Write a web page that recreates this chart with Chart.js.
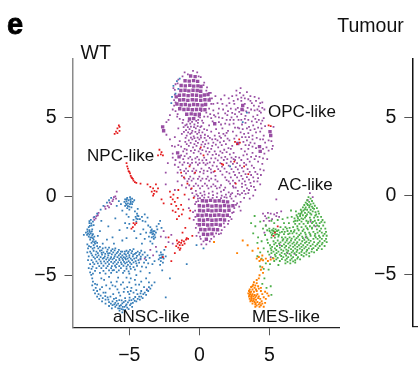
<!DOCTYPE html>
<html>
<head>
<meta charset="utf-8">
<script src="https://cdn.jsdelivr.net/npm/chart.js@4"></script>
<style>
html, body { margin: 0; padding: 0; background: #fff; }
#wrap { position: relative; width: 418px; height: 368px; overflow: hidden; }
#wt { position: absolute; left: 0; top: 0; }
#tumour { position: absolute; left: 330px; top: 0; }
</style>
</head>
<body>
<div id="wrap">
<canvas id="wt" width="418" height="368"></canvas>
<canvas id="tumour" width="88" height="368"></canvas>
</div>
<script>
const tickValues = [-5, 0, 5];

const clusterNames = ["NPC-like", "OPC-like", "AC-like", "aNSC-like", "MES-like"];
const clusterLabelX = [-8.02, 4.91, 5.61, -6.16, 3.76];
const clusterLabelY = [2.24, 5.03, 0.4, -7.97, -7.97];

const redPoints = [[-5.75,4.5],[-5.7,4.4],[-5.85,4.3],[-5.7,4.15],[-5.95,4.1],[-6.05,3.95],[-5.85,4],
[-2.85,2.95],[-2.75,2.65],[-2.95,2.6],[-2.6,2.6],[-2.7,2.8],
[-5.2,2.1],[-5.15,1.9],[-5.1,1.75],[-5.05,1.6],[-4.95,1.45],[-4.9,1.3],[-4.85,1.2],[-4.75,1.1],[-4.7,1],[-4.6,.9],[-4.5,.85],[-5,1.55],[-4.8,1.15],[-4.2,.8],
[-3.7,.75],[-3.5,.6],[-3.3,.5],[-3.1,.75],[-3.4,.3],[-3.25,.15],[-3.05,.3],[-3.3,.05],[-2.95,.5],[-3.2,.35],
[-2.7,-.2],[-2.55,-.45],[-2.1,.3],[-2.05,-.05],[-1.9,-.2],[-1.85,.1],[-1.75,-.35],[-1.65,-.6],[-2,-.5],[-1.55,-.1],[-1.5,-.8],[-1.7,-1],[-1.45,-1.25],[-1.6,-1.45],[-1.25,-1.15],[-1.15,-.85],[-1.9,-.9],[-1.3,-.55],
[-2.6,-3.85],[-2.4,-3.2],[-2,-4.1],[-2.2,-2.6],
[-1.6,-2.8],[-1.55,-3.0],[-1.45,-2.9],[-1.4,-3.1],[-1.5,-3.25],[-1.35,-3.3],[-1.3,-2.95],[-1.2,-3.1],[-1.25,-2.8],[-1.1,-2.85],[-1.05,-3],[-.95,-2.75],[-.9,-2.65],[-1.65,-3.15],[-1.4,-3.4],[-.8,-2.7],
[-1.75,-3.6],[-.5,-2.5],[-1.2,-2.3],[-1,-2],[-.7,-1.4],[-.65,-.9],[-.4,-.1],[-.55,.5],[-.85,.8],[-1.1,1.2],[-1.05,.1],[-.3,1.5],[-.7,1.9],[-1.3,1.5],[-1.5,.4],
[-4.75,-1.95],[-4.6,-1.8],[-4.7,-1.7],[-4.5,-1.7],[-4.85,-2.05],
[2.55,3.45],[2.7,3.3],[2.9,3.4],[2.85,3.6],[2.5,2.2],[1.6,2.05],[1.7,2],[3.2,1.9],[3.5,1.4],[2.6,.8],[4.95,4.5],[5.1,4.45],[1.1,1.6],[.1,3.1],[.3,2.6],
[5.4,-2.3],[5.3,-2.5],[5.6,-1.9]];

const orangePoints = [[3.9,-5.45],[4.1,-5.5],[3.85,-5.6],[4,-5.65],[4.2,-5.7],[3.7,-5.75],[3.95,-5.8],[3.6,-5.9],[3.8,-5.9],[4.25,-5.85],[4.4,-5.8],[3.55,-6],[3.7,-6.05],[3.9,-6.05],[4.1,-6],[4.4,-6],[4.7,-6.05],[3.5,-6.15],[3.65,-6.2],[3.8,-6.2],[3.95,-6.25],[4.15,-6.2],[4.5,-6.2],[4.85,-6.15],[3.55,-6.35],[3.7,-6.35],[3.85,-6.35],[4,-6.4],[4.25,-6.35],[4.6,-6.4],[4.95,-6.3],[3.6,-6.5],[3.75,-6.5],[3.9,-6.5],[4.05,-6.55],[4.35,-6.5],[4.75,-6.5],[3.65,-6.65],[3.8,-6.65],[3.95,-6.7],[4.15,-6.7],[4.45,-6.65],[3.8,-6.8],[4,-6.85],[4.25,-6.85],[4.5,-6.8],[4.7,-6.75],[4,-7],[4.3,-7],[4.6,-7],
[3.62,-6.1],[3.75,-6.28],[3.58,-6.25],[3.72,-6.42],[3.88,-6.6],[3.7,-6.58],[4.08,-6.3],[4.02,-6.78],[4.2,-6.45],[4.32,-6.75],[4.1,-6.92],[4.4,-6.9],[3.8,-5.7],[4.05,-5.9],
[4.1,-3.95],[4.25,-3.85],[4.4,-4],[4.55,-4.05],[4.3,-4.1],[4.75,-3.95],[4.9,-4.1],[5.1,-4],[5.3,-3.95],[4.5,-3.75],[3.8,-3.45],[3.45,-3.1],[4.2,-3.3],
[4.5,-4.5],[4.4,-4.65],[4.55,-4.85],[4.3,-5],[4.25,-5.2],[4.1,-5.3],[1.05,-2.9],[2.7,-3.6],[3.1,-2.8]];

const greenPoints = [[7.8,-.05],[7.95,-.15],[7.7,-.25],[8.05,-.3],[7.85,-.35],[7.6,-.4],[8.15,-.45],[7.95,-.5],[7.75,-.55],[7.5,-.55],[8.25,-.6],[8.05,-.65],[7.85,-.7],[7.6,-.7],[7.4,-.7],[8.4,-.75],[8.2,-.8],[7.95,-.85],[7.7,-.85],[7.45,-.9],[7.25,-.85],[8.5,-.95],[8.3,-1],[8.1,-.95],[7.8,-1],[7.55,-1.05],[7.3,-1.05],[7.1,-1.1],[8.55,-1.1],[8.35,-1.15],[8,-1.15],[7.7,-1.15],[7.4,-1.2],[7.2,-1.25],[6.95,-1.2],[8.7,-1.3],[8.45,-1.3],[8.2,-1.35],[7.9,-1.35],[7.55,-1.35],[7.3,-1.4],[7.05,-1.4],[6.8,-1.4],[8.8,-1.5],[8.5,-1.5],[8.25,-1.55],[7.95,-1.5],[7.65,-1.55],[7.3,-1.6],[7,-1.55],[6.75,-1.6],[8.95,-1.65],[8.6,-1.7],[8.35,-1.7],[8.05,-1.7],[7.75,-1.7],[7.45,-1.75],[7.15,-1.75],[6.85,-1.75],[8.85,-1.85],[8.55,-1.9],[8.2,-1.85],[7.9,-1.9],[7.6,-1.9],[7.3,-1.95],[7,-1.9],[6.7,-1.95],[6.45,-2],[9,-2.05],[8.7,-2.05],[8.4,-2.1],[8.05,-2.05],[7.75,-2.1],[7.45,-2.1],[7.1,-2.15],[6.8,-2.15],[6.55,-2.2],[6.3,-2.2],[9.05,-2.25],[8.75,-2.3],[8.45,-2.3],[8.15,-2.25],[7.85,-2.3],[7.55,-2.3],[7.25,-2.35],[6.95,-2.35],[6.65,-2.35],[6.35,-2.4],[6.05,-2.4],[9.1,-2.5],[8.85,-2.5],[8.55,-2.5],[8.25,-2.5],[7.95,-2.5],[7.65,-2.55],[7.35,-2.55],[7.05,-2.55],[6.75,-2.55],[6.45,-2.6],[6.15,-2.6],[5.9,-2.6],[5.65,-2.55],[9.05,-2.7],[8.75,-2.7],[8.45,-2.7],[8.15,-2.7],[7.8,-2.75],[7.5,-2.75],[7.15,-2.75],[6.85,-2.75],[6.55,-2.8],[6.25,-2.8],[5.95,-2.8],[5.6,-2.8],[5.3,-2.85],[9.1,-2.9],[8.8,-2.95],[8.5,-2.95],[8.2,-2.9],[7.85,-2.95],[7.55,-2.95],[7.25,-3],[6.95,-3],[6.65,-3],[6.35,-3],[6.05,-3.05],[5.7,-3],[5.35,-3.05],[5.05,-3.1],[8.95,-3.15],[8.6,-3.15],[8.3,-3.15],[7.95,-3.15],[7.6,-3.2],[7.3,-3.2],[7,-3.2],[6.7,-3.2],[6.4,-3.25],[6.1,-3.25],[5.75,-3.25],[5.4,-3.3],[5.1,-3.3],[8.75,-3.35],[8.4,-3.4],[8.05,-3.35],[7.7,-3.4],[7.35,-3.4],[7,-3.4],[6.7,-3.45],[6.35,-3.45],[6,-3.45],[5.65,-3.5],[5.3,-3.5],[4.9,-3.5],[8.2,-3.55],[7.85,-3.6],[7.5,-3.6],[7.15,-3.6],[6.8,-3.6],[6.45,-3.65],[6.1,-3.65],[5.75,-3.7],[5.4,-3.7],[5,-3.7],[7.85,-3.8],[7.45,-3.8],[7.05,-3.85],[6.7,-3.85],[6.35,-3.85],[6,-3.85],[5.6,-3.9],[5.25,-3.9],[7.2,-4],[6.85,-4.05],[6.5,-4.05],[6.15,-4.05],[5.75,-4.1],[5.35,-4.1],[6.85,-4.2],[6.5,-4.25],[6.15,-4.25],[5.05,-4.3],
[5.2,-2.15],[5.3,-2.05],[5.4,-2.25],[5.25,-2.35],[5.1,-2.3],[5.45,-2.1],[5.55,-2.4],[5,-2.05],[5.65,-2.15],[5.8,-1.95],[6,-2.1],[5.75,-2.3],
[4,-1.9],[3.85,-2.35],[4.2,-2.6],[4.35,-1.6],[4.55,-2.05],[4.7,-2.45],[4.45,-2.85],[4.75,-1.85],[4.85,-2.75],[4.95,-1.35],[5.15,-1.55],[5.35,-1.7],[5.6,-1.5],[6.05,-1.7],[6.3,-1.35],[6.55,-.9],[6.15,-1.95],[4.6,-3.3],[4.35,-3.55],[4.15,-3.8],[4.45,-3.95],[4.75,-4.25],[4.35,-4.45],[4.6,-4.6],[4.15,-2.95],[3.7,-1.7],[3.95,-1.25],[5.1,-5.7],[5.15,-6.25],[4.8,-5.8],[4.5,-5.55],[4.65,-5.2],[4.95,-4.65],[5.65,-4.35]];

const greenExtraPoints = [[7.7,-.48],[7.88,-.6],[8.12,-.75],[7.55,-.82],[7.32,-.95],[7.92,-1.08],[7.62,-1.25],[7.22,-1.12],[7.02,-1.3],[8.28,-1.22],[7.42,-1.45],[7.78,-1.6],[8.12,-1.62],[7.15,-1.5],[8.42,-1.85],[8.72,-1.62],[8.05,-1.98],[7.7,-2.02],[7.38,-2.2],[7.02,-2.05],[6.85,-1.55],[8.6,-2.2],[8.28,-2.38],[7.92,-2.4],[7.6,-2.42],[7.15,-2.45],[6.75,-2.25],[6.45,-2.35],[8.95,-2.38],[8.62,-2.6],[8.32,-2.6],[7.72,-2.65],[7.4,-2.65],[6.95,-2.65],[6.6,-2.68],[6.3,-2.7],[6,-2.72],[8.95,-2.82],[8.6,-2.85],[7.95,-2.82],[7.65,-2.88],[7.35,-2.85],[7,-2.9],[6.75,-2.92],[6.45,-2.92],[6.15,-2.92],[5.8,-2.92],[5.45,-2.95],[8.75,-3.05],[8.42,-3.05],[8.1,-3.05],[7.72,-3.08],[7.42,-3.1],[7.12,-3.1],[6.82,-3.1],[6.5,-3.12],[6.2,-3.15],[5.9,-3.15],[5.55,-3.15],[5.2,-3.2],[8.5,-3.28],[8.15,-3.28],[7.82,-3.3],[7.5,-3.3],[7.18,-3.32],[6.85,-3.32],[6.55,-3.35],[6.22,-3.38],[5.85,-3.38],[5.5,-3.4],[5.15,-3.42],[8.02,-3.5],[7.65,-3.5],[7.3,-3.52],[6.95,-3.52],[6.6,-3.55],[6.25,-3.55],[5.88,-3.58],[5.52,-3.6],[5.15,-3.6],[7.65,-3.7],[7.3,-3.72],[6.92,-3.72],[6.55,-3.75],[6.2,-3.75],[5.85,-3.78],[5.45,-3.8],[7,-3.95],[6.6,-3.95],[6.25,-3.95],[5.9,-3.98],[5.5,-4],[6.7,-4.12],[6.3,-4.15],[5.55,-2.2],[5.3,-2.2],[5.18,-2.45],[5.42,-2.42],[5.02,-2.2],[5.68,-2.45],[5.9,-2.25],[6.1,-2.25],[4.85,-2.15],[5.15,-2.62],[5.4,-2.62],[4.9,-2.95],[6.25,-2.05],[6.4,-1.7],[6.6,-1.3],[6.9,-.95],[5.95,-1.45]];

const bluePoints = [[-6.3,-.1],[-6.45,-.25],[-6.6,-.4],[-6.85,-.6],[-7.05,-.85],[-7.3,-1.1],[-7.5,-1.3],
[-5.3,-.2],[-5.15,-.1],[-4.95,-.05],[-4.8,-.15],[-5.2,-.3],[-5.05,-.25],[-4.9,-.3],[-4.75,-.35],[-5.25,-.45],[-5.1,-.45],[-4.95,-.5],[-4.8,-.5],[-5.3,-.6],[-5,-.65],[-4.85,-.7],[-5.15,-.75],[-5.35,-.35],[-4.65,-.25],[-5,-.85],[-5.6,-.5],[-5.75,-.3],[-5.9,-.6],[-5.5,-.9],
[-5.2,-1.15],[-5.05,-1.3],[-4.6,-.95],[-4.45,-1.1],[-4.35,-1.25],[-4.55,-1.3],[-4.4,-1.45],[-4.7,-1.5],[-4.25,-1.45],[-4.5,-1.6],[-4.1,-1.3],[-3.9,-1.15],[-4.05,-1.55],[-3.7,-1.35],[-3.85,-1.6],[-4.4,-.8],[-5.3,-1.7],[-5,-1.75],[-5.15,-2],
[-3.65,-1.85],[-3.5,-1.95],[-3.4,-2.1],[-3.3,-2.2],[-3.5,-2.3],[-3.35,-2.4],[-3.2,-2.45],[-3.4,-2.6],[-3.25,-2.7],[-3.05,-1.9],[-2.9,-1.75],[-3,-2.1],[-3.1,-2.3],[-2.8,-1.55],[-3.15,-2.6],[-3.6,-2.55],[-3.8,-2.3],[-4,-2.1],[-4.2,-2.4],[-3.9,-2.7],[-3.5,-2.85],[-3.35,-3],[-2.7,-2],[-4.5,-2.65],[-4.65,-2.2],[-4.1,-3],
[-7.75,-1.5],[-7.85,-1.7],[-7.6,-1.6],[-7.9,-1.95],[-7.7,-1.85],[-8,-2.1],[-7.85,-2.15],[-7.65,-2.1],[-8.1,-2.3],[-7.95,-2.35],[-7.75,-2.35],[-7.6,-2.4],[-7.9,-2.55],[-7.7,-2.6],[-7.5,-2.55],[-7.8,-2.75],[-7.55,-2.75],[-7.4,-2.85],[-7.7,-2.95],[-7.45,-3],[-7.25,-2.5],[-8.25,-2.45],[-7.1,-2.2],[-6.9,-3],
[-8,-3.05],[-7.95,-3.3],[-7.75,-3.2],[-7.5,-3.25],[-7.3,-3.15],[-7.1,-3.2],[-6.9,-3.3],[-6.7,-3.25],[-6.45,-3.25],[-6.2,-3.35],[-6,-3.3],[-5.75,-3.4],[-5.5,-3.5],[-5.2,-3.45],[-4.95,-3.4],[-4.7,-3.35],[-4.4,-3.5],[-4.15,-3.45],[-3.9,-3.55],
[-8,-3.55],[-7.8,-3.5],[-7.55,-3.45],[-7.35,-3.5],[-7.1,-3.45],[-6.85,-3.55],[-6.6,-3.5],[-6.4,-3.6],[-6.15,-3.55],[-5.9,-3.6],[-5.65,-3.65],[-5.35,-3.65],[-5.1,-3.6],[-4.85,-3.6],[-4.6,-3.65],[-4.3,-3.7],[-4.05,-3.7],[-3.7,-3.75],
[-7.9,-3.8],[-7.65,-3.75],[-7.4,-3.7],[-7.2,-3.75],[-6.95,-3.7],[-6.75,-3.8],[-6.5,-3.75],[-6.3,-3.85],[-6.05,-3.8],[-5.85,-3.85],[-5.6,-3.85],[-5.4,-3.85],[-5.2,-3.8],[-5,-3.85],[-4.75,-3.8],[-4.5,-3.9],[-4.2,-3.95],[-3.55,-3.9],
[-7.95,-4.05],[-7.7,-4.05],[-7.45,-3.95],[-7.15,-4],[-6.9,-3.95],[-6.65,-4],[-6.45,-4.05],[-6.2,-4],[-5.95,-4.05],[-5.7,-4.05],[-5.45,-4.05],[-5.25,-4],[-5.05,-4.1],[-4.8,-4.05],[-4.55,-4.1],[-4.3,-4.2],[-3.95,-4.2],[-3.65,-4.25],
[-7.8,-4.3],[-7.5,-4.3],[-7.25,-4.25],[-7,-4.25],[-6.7,-4.25],[-6.45,-4.3],[-6.15,-4.25],[-5.9,-4.3],[-5.55,-4.3],[-5.3,-4.25],[-5.1,-4.35],[-4.85,-4.3],[-4.45,-4.4],[-4.1,-4.45],[-3.8,-4.5],
[-7.7,-4.6],[-7.35,-4.55],[-7,-4.55],[-6.65,-4.55],[-6.3,-4.55],[-5.95,-4.5],[-5.6,-4.55],[-5.2,-4.6],[-4.9,-4.6],[-4.6,-4.65],[-4.2,-4.75],[-3.55,-4.85],
[-7.6,-4.9],[-7.1,-4.85],[-6.7,-4.9],[-6.3,-4.85],[-5.9,-4.8],[-5.45,-4.85],[-5,-4.9],[-4.5,-5],[-3.8,-5.2],[-7.65,-5.2],[-7,-5.2],[-6.45,-5.1],[-5.8,-5.15],[-5.2,-5.15],[-4.6,-5.3],[-4.15,-5.4],[-3.6,-5.45],
[-2.75,-3.55],[-2.6,-3.7],[-2.85,-3.75],[-2.7,-3.9],[-2.55,-3.95],[-2.9,-4],[-2.75,-4.1],[-2.6,-4.2],[-2.5,-3.4],[-3.05,-3.5],[-2.4,-3.8],[-3.2,-4.1],[-2.8,-4.35],[-2.65,-4.7],
[-7.6,-5.4],[-7.45,-5.55],[-7.65,-5.65],[-7.4,-5.8],[-7.55,-5.95],[-7.3,-6],[-7.45,-6.15],[-7.2,-6.2],[-7.3,-6.35],[-7.05,-6.3],[-7.15,-6.5],[-6.9,-6.45],[-6.95,-6.65],[-6.7,-6.55],[-6.7,-6.8],[-6.45,-6.7],[-6.45,-6.95],[-6.2,-6.65],[-6.2,-6.9],[-6,-6.75],[-6,-7],[-5.8,-6.8],[-5.8,-7.1],[-5.6,-6.9],[-5.55,-7.15],[-5.4,-6.7],[-5.35,-7],[-5.2,-6.85],[-5.15,-7.05],[-5,-6.6],[-4.95,-6.9],[-4.75,-6.75],[-4.7,-6.5],[-4.5,-6.65],[-4.3,-6.35],[-4.25,-6.55],[-4.05,-6.45],[-4,-6.2],[-3.8,-6.25],[-3.65,-6],[-3.5,-5.85],[-3.4,-5.65],[-3.2,-5.45],
[-6.95,-5.75],[-6.7,-6.1],[-6.4,-5.85],[-6.15,-6.2],[-6.2,-5.65],[-5.95,-6.45],[-5.85,-5.9],[-5.65,-6.3],[-5.6,-5.6],[-5.4,-6.05],[-5.3,-6.45],[-5.15,-5.75],[-5,-6.2],[-4.85,-5.8],[-4.7,-6.1],[-4.5,-5.95],[-4.3,-5.6],[-4.15,-6],[-3.95,-5.75],[-5.55,-6.6],[-6.55,-6.4],[-6.8,-5.3],[-5.9,-5.4],[-5,-5.45],
[-5.7,-7.25],[-5.5,-7.35],[-5.3,-7.2],[-4.8,-7],[-6.25,-7.1],[-5.05,-7.15],
[-6.5,-1.9],[-6.2,-2.6],[-6,-1.4],[-5.7,-2.15],[-5.5,-2.8],[-6.6,-2.75],[-7,-1.55],[-5.2,-2.65],[-6.1,-3],[-.9,-4.3],[-2.1,-5.2],[-2.4,-6.4],[3.1,4.7],[2.2,1.9],[3.4,5.3],[.3,-3.3],[-.2,-3.1],[-1.5,6.8],[-1.7,6.5],[-1.85,7],[-1.6,7.3],[-1.95,6.3],[-2,5.9],[-1.4,7.45]];

const blueExtraPoints = [[-7.85,-1.58],[-7.72,-1.72],[-7.55,-1.82],[-7.82,-1.88],[-7.98,-2.22],[-7.82,-2.25],[-7.68,-2.22],[-8.02,-2.45],[-7.85,-2.42],[-7.65,-2.48],[-7.78,-2.62],[-7.6,-2.65],[-7.62,-2.85],[-7.5,-2.9],[-7.55,-3.1],[-7.3,-2.95],
[-7.88,-3.15],[-7.62,-3.32],[-7.22,-3.3],[-6.98,-3.42],[-6.55,-3.38],[-6.3,-3.45],[-6.05,-3.42],[-5.82,-3.52],[-5.6,-3.5],[-5.32,-3.5],[-5.05,-3.5],[-4.8,-3.48],[-4.52,-3.58],[-4.25,-3.58],
[-7.72,-3.62],[-7.25,-3.6],[-6.98,-3.58],[-6.72,-3.65],[-6.52,-3.62],[-6.25,-3.68],[-6,-3.7],[-5.75,-3.75],[-5.5,-3.75],[-5.25,-3.7],[-5,-3.72],[-4.72,-3.7],[-4.45,-3.78],[-4.18,-3.82],[-3.85,-3.85],
[-7.55,-3.85],[-7.3,-3.85],[-7.05,-3.85],[-6.82,-3.9],[-6.55,-3.88],[-6.35,-3.95],[-6.1,-3.92],[-5.72,-3.95],[-5.5,-3.95],[-5.3,-3.92],[-5.12,-3.95],[-4.9,-3.95],[-4.65,-3.95],[-4.35,-4.05],[-3.8,-4.05],
[-7.6,-4.18],[-7.35,-4.12],[-7.05,-4.12],[-6.8,-4.12],[-6.55,-4.15],[-6.3,-4.15],[-6.05,-4.15],[-5.8,-4.18],[-5.6,-4.18],[-5.38,-4.15],[-5.18,-4.18],[-4.95,-4.2],[-4.7,-4.18],[-4.5,-4.25],
[-7.62,-4.45],[-7.15,-4.42],[-6.85,-4.4],[-6.55,-4.42],[-6.25,-4.42],[-6.02,-4.4],[-5.72,-4.42],[-5.42,-4.4],[-5.2,-4.45],[-4.95,-4.45],[-4.7,-4.48],
[-7.45,-4.72],[-6.85,-4.72],[-6.45,-4.7],[-6.1,-4.68],[-5.75,-4.7],[-5.35,-4.72],[-5.05,-4.75],
[-6.72,-6.32],[-6.5,-6.55],[-6.35,-6.35],[-6.32,-6.8],[-6.1,-6.5],[-6.08,-6.85],[-5.9,-6.62],[-5.92,-6.9],[-5.72,-6.58],[-5.7,-6.95],[-5.68,-7.1],[-5.5,-6.78],[-5.48,-7],[-5.45,-7.18],[-5.28,-6.62],[-5.25,-6.92],[-5.1,-6.72],[-4.98,-6.42],[-4.85,-6.58],[-4.88,-6.8],[-4.62,-6.62],[-4.58,-6.38],[-4.4,-6.5],[-4.42,-6.2],[-4.15,-6.35],[-4.2,-6.15],[-3.9,-6.1],[-3.75,-5.95],[-3.6,-5.75],
[-6.65,-5.65],[-6.3,-5.45],[-6,-5.7],[-5.75,-6.1],[-5.45,-5.45],[-5.35,-5.85],[-5.1,-6.05],[-4.9,-6],[-4.55,-5.6],[-7.3,-5.6],[-7.1,-5.9],[-6.85,-6.1],[-4.9,-5.2],
[-5.2,-.55],[-5.1,-.62],[-4.9,-.42],[-5.18,-.18],[-4.92,-.18],[-4.42,-1.22],[-4.5,-1.42],[-3.4,-2.28],[-3.28,-2.35],[-3.45,-2.18],[-3.2,-2.2],[-3.28,-2.55],[-2.72,-3.7],[-2.65,-3.82],[-2.8,-3.9],
[-7.9,-4.55],[-7.8,-4.82],[-7.72,-4.98],[-6.2,-4.7],[-3.35,-4.3]];

const purpleDensePoints = [[-.62,7.62],[-.3,7.58],
[-1.02,7.32],[-.72,7.3],[-.41,7.33],[-.12,7.28],
[-1.3,7.02],[-1,7],[-.68,7.03],[-.4,6.98],[-.1,7],[.12,6.96],
[-1.32,6.7],[-1.02,6.72],[-.75,6.68],[-.45,6.72],[-.15,6.7],[.1,6.66],
[-1.42,6.4],[-1.1,6.42],[-.8,6.38],[-.5,6.42],[-.2,6.4],[.1,6.36],[.36,6.42],
[-1.4,6.1],[-1.12,6.12],[-.82,6.08],[-.5,6.12],[-.22,6.1],[.1,6.08],[.4,6.12],
[-1.3,5.8],[-1,5.82],[-.7,5.78],[-.4,5.82],[-.12,5.8],[.2,5.78],[.45,5.82],[.7,6.1],[.62,6.45],
[-1.1,5.5],[-.8,5.52],[-.5,5.48],[-.2,5.5],[.1,5.52],[.4,5.48],[-1.4,5.55],[-1.6,5.85],[-1.65,6.3],
[-.9,5.2],[-.58,5.22],[-.3,5.18],[0,5.2],[-.7,4.9],[-.4,4.92],
[-2.62,4.4],[-2.55,4.15],[-1.55,2.75],[-1.45,2.5],[1.1,4.6],[2.75,3.35],[4.3,3.15],[4.35,2.85],[5.05,4.1],[5.1,3.85],[3.05,5.5],[3.1,5.75],
[.22,-.28],[.5,-.3],[.8,-.26],[1.12,-.3],[1.42,-.28],[1.72,-.32],[2.02,-.35],
[0,-.6],[.3,-.62],[.6,-.58],[.9,-.62],[1.2,-.6],[1.5,-.62],[1.8,-.58],[2.1,-.62],[2.4,-.6],
[.02,-.9],[.3,-.92],[.62,-.88],[.9,-.92],[1.2,-.9],[1.5,-.88],[1.8,-.92],[2.12,-.88],
[-.1,-1.2],[.2,-1.22],[.5,-1.18],[.8,-1.22],[1.1,-1.2],[1.4,-1.18],[1.7,-1.22],[2,-1.2],
[0,-1.5],[.3,-1.52],[.6,-1.48],[.9,-1.52],[1.2,-1.5],[1.5,-1.48],[1.8,-1.5],
[0,-1.8],[.3,-1.78],[.6,-1.82],[.9,-1.8],[1.2,-1.78],[1.5,-1.82],
[.1,-2.1],[.4,-2.12],[.7,-2.08],[1,-2.1],[1.3,-2.12],
[.3,-2.4],[.6,-2.42],[.9,-2.38],[.5,-2.72]];

const purplePoints = [[-1.05,7.85],[-.45,7.95],[-.15,7.85],[.1,7.55],[.35,7.2],[.55,6.9],[.7,6.55],[.75,6.2],[.85,5.85],[.7,5.55],[.5,5.3],[.35,5.05],[.2,4.8],[-1.5,7.4],[-1.7,7.1],[-1.75,6.75],[-1.8,6.1],[-1.8,5.75],[-1.7,5.4],[-1.55,5.2],[-1.9,5.5],[-2.1,5.15],[-2.2,4.85],[-1.4,4.9],[-1.2,4.65],[-1,4.5],
[-.9,4.55],[-.65,4.6],[-.35,4.55],[-.1,4.65],[.15,4.45],[-1.5,4.3],[-.95,4.2],[-.7,4.25],[-.5,4.15],[-.25,4.3],[0,4.2],[.35,4.25],[-1.25,3.95],[-.9,3.85],[-.65,3.95],[-.4,3.8],[-.15,3.95],[.1,3.85],[.4,3.9],[-.75,3.55],[-.5,3.6],[-.25,3.5],[0,3.6],[.25,3.45],[.5,3.55],[-1,3.45],[-1.4,3.5],[-1.75,3.75],
[-2.35,4.7],[-2.35,3.9],[-2.1,3.6],[-1.95,3.2],[-1.75,3.15],[-1.3,3.15],[-1.05,3],[-.75,3.2],[-.45,3.1],[-.2,3.2],[.05,3],[.35,3.15],[.6,3.05],[-1.9,2.7],[-1.7,2.3],[-1.3,2.6],[-1.15,2.35],[-.9,2.7],[-.65,2.5],[-.4,2.75],[-.15,2.5],[.1,2.7],[.35,2.45],[.6,2.65],[.85,2.4],[-1.75,2],[-1.5,1.85],[-1.2,2],[-.95,1.75],[-.65,2],[-.4,1.75],[-.1,2],[.15,1.75],[.45,2],[.7,1.8],[.95,1.95],[-1.55,1.5],[-1.25,1.3],[-.95,1.45],[-.65,1.25],[-.35,1.45],[0,1.25],[.3,1.45],[.6,1.25],[.85,1.5],[1.15,1.3],[-.85,.95],[-.55,1],[-.25,.8],[.1,1],[.4,.8],[.7,1],[1,.75],[1.3,.95],[1.55,.7],[-.6,.45],[-.25,.35],[.05,.5],[.35,.3],[.65,.5],[.95,.3],[1.25,.5],[1.55,.3],[1.85,.55],[2.1,.25],[-.35,0],[-.1,-.15],[-.3,-.5],[-.45,-1],[-.4,-1.5],[-.25,-2],[-.2,-2.5],[.1,-2.7],[.15,-3.05],[.5,-3.05],[.75,-2.85],[1.05,-2.55],[1.4,-2.4],[1.6,-2.15],[1.8,-1.95],[2.05,-1.75],[2.3,-1.45],[2.35,-1.05],[2.5,-.75],[2.7,-.45],[2.45,-.3],[2.95,-.9],[2.2,0],[2.6,0],[2.9,.1],[3.2,-.1],[3.5,.2],[3.85,.05],[2.45,.55],[2.75,.35],[3.05,.6],[3.4,.5],[3.7,.65],[4,.4],
[.7,4.5],[.95,4.75],[1.2,4.25],[1.4,4.7],[.85,4.1],[1.1,3.85],[1.4,4],[1.65,4.3],[1.85,4.6],[.75,3.7],[1,3.4],[1.3,3.55],[1.55,3.7],[1.85,3.85],[2.05,4.15],[.85,3],[1.1,2.85],[1.35,3.1],[1.6,3.25],[1.9,3.3],[2.15,3.55],[1.15,2.4],[1.4,2.6],[1.65,2.75],[1.95,2.8],[2.25,3],[2.45,2.75],[1.25,1.9],[1.5,2.1],[1.75,2.3],[2,2.35],[2.3,2.45],[2.6,2.5],[1.5,1.6],[1.8,1.75],[2.1,1.95],[2.4,2.05],[2.7,2.1],[3,2.3],[1.85,1.2],[2.15,1.45],[2.45,1.55],[2.75,1.7],[3.05,1.8],[3.35,2],[3.6,2.2],[2.1,.95],[2.4,1],[2.7,1.2],[3,1.3],[3.3,1.4],[3.6,1.55],[3.9,1.8],[2.4,.65],[3.25,.95],[3.55,1.05],[3.85,1.2],[4.15,1.4],[4.35,1.7],
[1.7,5.5],[1.95,5.75],[2.25,5.55],[2.5,5.85],[2.75,5.6],[3,6.05],[3.25,5.85],[3.45,5.6],[3.65,6.05],[3.9,5.75],[4.15,5.5],[4.35,5.9],[4.65,5.5],[2.35,6.35],[2.65,6.4],[2.9,6.55],[3.15,6.4],[3.4,6.6],[3.65,6.35],[3.95,6.3],[4.25,6.2],[4.5,5.95],[3,5.2],[3.3,5.1],[3.55,5.3],[3.85,5.05],[4.15,5.15],[4.4,5.3],[2,5.15],[2.3,5],[2.55,5.2],[2.8,4.85],[1.3,5.9],[1.55,6.15],[1.15,6.35],[1,5.45],[1.35,5.25],[1.65,4.95],[2.15,4.55],[2.45,4.6],[2.75,4.35],[3.05,4.55],[3.3,4.65],[3.55,4.4],[3.85,4.5],[4.1,4.7],[4.4,4.6],[4.7,4.45],[2.4,4.1],[2.65,3.85],[2.95,4.05],[3.2,3.95],[3.5,4],[3.8,3.85],[4.05,4.05],[4.35,4.1],[4.6,3.85],[3.15,3.45],[3.4,3.55],[3.65,3.4],[3.95,3.35],[4.7,3.4],[4.95,3.55],[3,3],[3.25,2.85],[3.5,3],[3.8,2.75],[4.05,2.55],[4.65,2.7],[4.85,2.35],[4.2,2.2],[4.5,2.05],[4.6,1.65],[4.4,1.35],[4.15,.95],[4.35,.75],[5.15,3.5],[5.25,3.2],[5.3,4.4],[5.2,3],[4.95,2.9],[4.6,4.95],[1.8,6.4],[2.1,6.2],[2.95,6.85],[2.65,6.7],
[-.05,5.05],[.15,5.4],[.6,5.05],[.85,4.95],[1.05,5.15],
[-1.9,2.45],[-2.25,2.1],[-2.4,1.5],[-.95,.55],[-1.25,.7],[-1.55,.95],[-1.75,.4],[-2.4,.75],[-.75,-.2],[-.75,-.75],
[-6.1,-.05],[-6,0],[-5.95,-.15],[-6.15,-.2],[-6.4,-.4],[-6.3,-.5],[-6.55,-.6],[-6.45,-.7],[-6.7,-.8],[-7.2,-1.05],[-7.35,-1.25],[-7.4,-1.4],[-7.5,-1.5],[-7.55,-1.35],[-7.25,-1.2],[-5.9,.3],[-6.2,-.3],[-6.75,-.65],
[-2.4,-2.6],[-2.2,-2.9],[-2,-2.45],[-1.9,-3],[-2.55,-2.2],[-2.75,-2.55],[-3.1,-3.2],[-3.75,-5.9],[-3.5,-3.4],[-3.3,-3.75],[-4.2,-4],[-3.9,-3.95],
[4.55,-1.1],[4.7,-1.25],[4.9,-1.05],[5.1,-1.1],[4.8,-1.4],[5,-1.55],[5.2,-1.45],[5.35,-1.15],[4.6,-1.55],[5.5,-1.25],[4.75,-1.85],[4.65,-2.3],[5.55,-1.05],[5.7,-1.3],[2.95,-.35],[3.3,.15],[3.6,-.15],[5.5,-.2],[5.85,-.95],[7.95,-1.6],[8.3,-1.9],[7.6,-2.6],[6.8,-3.65],[6.3,-3.6],[5.75,-3.1],[5.1,-3.85],[7.9,.2],[8.1,-.05],[7.75,-.25]];

const purpleExtraPoints = [[-.78,4.75],[-.52,4.72],[-.22,4.78],[-1.12,4.38],[-.82,4.38],[-.6,4.42],[-.38,4.38],[-.12,4.45],[.08,4.38],[-1.1,4.08],[-.8,4.05],[-.55,4.02],[-.28,4.08],[-.02,4.05],[.22,4.05],[-.98,3.7],[-.6,3.72],[-.35,3.68],[-.12,3.72],[.12,3.72],[.38,3.7],[-.9,3.3],[-.62,3.38],[-.35,3.3],[-.1,3.38],[.15,3.28],[.42,3.3],[-1.5,3.25],[-1.15,2.85],[-.9,2.95],[-.6,2.88],[-.32,2.92],[-.05,2.85],[.22,2.92],[.48,2.85],[.72,2.82],
[-1.05,2.55],[-.78,2.4],[-.52,2.32],[-.28,2.4],[-.02,2.32],[.22,2.28],[.5,2.3],[.75,2.15],[-1.4,2.15],[-1.08,2.15],[-.82,2.1],[-.52,2.12],[-.25,2.15],[.02,2.1],[.3,2.12],[.58,2.08],[-1.35,1.68],[-1.08,1.6],[-.8,1.6],[-.5,1.6],[-.22,1.62],[.05,1.55],[.32,1.62],[.58,1.6],[.82,1.7],[1.02,1.55],[-1.05,1.12],[-.75,1.1],[-.42,1.12],[-.1,1.1],[.22,1.12],[.5,1.1],[.85,1.12],[1.15,1.05],[-.72,.7],[-.4,.65],[-.08,.68],[.22,.65],[.55,.68],[.85,.62],[1.15,.65],[1.45,.55],[1.75,.4],[-.5,.2],[-.2,.12],[.08,.2],[.38,.1],[.68,.18],[.98,.08],[1.28,.18],[1.6,.05],[1.9,.1],[2.25,.12],[-.1,.02],[.2,.05],
[.55,4.2],[.62,3.82],[.92,3.6],[1.15,3.62],[1.45,3.8],[1.72,3.95],[1.95,4.02],[.65,3.35],[.92,3.2],[1.18,3.28],[1.48,3.42],[1.75,3.5],[2.02,3.65],[.95,2.62],[1.2,2.68],[1.5,2.85],[1.78,2.95],[2.08,3.05],[2.35,3.2],[1.05,2.15],[1.32,2.28],[1.58,2.45],[1.85,2.5],[2.18,2.65],[2.45,2.35],[1.35,1.72],[1.62,1.88],[1.95,2.1],[2.25,2.2],[2.55,2.3],[2.85,2.45],[1.65,1.38],[1.95,1.55],[2.3,1.72],[2.6,1.85],[2.9,1.95],[3.2,2.12],[3.45,2.35],[1.95,1.02],[2.25,1.2],[2.55,1.35],[2.85,1.48],[3.15,1.58],[3.45,1.72],[3.75,1.95],[2.2,.8],[2.55,.85],[2.85,1],[3.1,1.1],[3.4,1.22],[3.7,1.35],[4,1.55],[3.05,.8],[3.3,.72],[3.65,.85],[3.9,.95],[4.2,1.15],[2.6,.55],[3.2,.35],[3.55,.4],[3.9,.6],[2.35,.2],[2.75,.15],[3.05,.2],
[2.05,5.4],[2.35,5.28],[2.6,5.5],[2.85,5.35],[3.15,5.45],[3.35,5.38],[3.7,5.5],[3.95,5.45],[4.25,5.7],[4.5,5.6],[2.15,5.9],[2.45,6.05],[2.75,6.15],[3,6.25],[3.25,6.2],[3.5,6.15],[3.75,5.9],[4.05,6.05],[4.3,5.4],[2.2,4.85],[2.45,4.85],[2.7,5.05],[3,4.85],[3.25,4.9],[3.5,4.85],[3.75,4.75],[4,4.9],[4.25,4.85],[4.5,4.8],[2.55,4.35],[2.85,4.3],[3.1,4.25],[3.4,4.3],[3.65,4.2],[3.95,4.25],[4.2,4.35],[4.45,4.3],[2.5,3.65],[3.05,3.75],[3.3,3.75],[3.55,3.75],[3.8,3.6],[4.1,3.7],[4.35,3.6],[4.55,3.6],[3.3,3.25],[3.55,3.25],[3.8,3.15],[4.05,3.05],[4.55,3],[4.8,3.1],[3.15,2.6],[3.4,2.65],[3.7,2.5],[3.95,2.35],[4.3,2.5],[4.55,2.4],[1.65,5.85],[1.4,5.55],[1.85,5.25],[1.15,5.05],[1.4,5],[1.55,4.55],[1.95,4.85],
[.82,6.55],[.9,6.2],[1,5.85],[.78,5.2],[-1.75,6.45],[-1.7,5.95],[-1.85,6.85],[-1.55,7.15],[-1.2,7.6],[-.82,7.72],[-.05,7.6],[.3,7.05],[.5,6.7],[-1.58,5.05],[-1.15,4.85],[.05,5],[.28,4.65],[-.08,4.85],
[-.3,-.9],[-.22,-.35],[-.28,-1.3],[-.18,-1.75],[-.05,-2.3],[.05,-2.55],[.3,-2.85],[.85,-2.7],[1.2,-2.35],[1.55,-2.35],[1.75,-1.72],[2.1,-1.55],[2.2,-1.3],[2.45,-1],[2.62,-.55],[2.3,-.15],[1.95,-.08],[2.85,-.65],[-.08,-.3],[.05,-.12],[.35,-.08],[.65,-.05],[.95,-.1],[1.25,-.05],[1.55,-.12],[1.8,-.05]];

// draws the cluster names and the panel title text in place
const panelText = {
    id: "panelText",
    afterDraw(chart, args, opts) {
        const { ctx, scales, chartArea } = chart;
        ctx.save();
        ctx.fillStyle = "#111";
        ctx.textBaseline = "alphabetic";
        ctx.textAlign = "left";
        ctx.font = "19.5px 'Liberation Sans'";
        ctx.fillText(opts.title, chartArea.left + opts.titleDx, opts.titleY);
        if (opts.names) {
            ctx.font = "17px 'Liberation Sans'";
            opts.names.forEach((name, i) => {
                ctx.fillText(name, scales.x.getPixelForValue(clusterLabelX[i]), scales.y.getPixelForValue(clusterLabelY[i]));
            });
        }
        if (opts.panel) {
            ctx.font = "900 29px 'Liberation Sans'";
            ctx.lineWidth = 0.8;
            ctx.strokeStyle = "#000";
            ctx.fillStyle = "#000";
            ctx.fillText(opts.panel, 7, 34);
            ctx.strokeText(opts.panel, 7, 34);
        }
        ctx.restore();
    },
};

const scatterSet = (data, color, radius) => ({
    data: data.map(p => ({ x: p[0], y: p[1] })),
    backgroundColor: color,
    borderWidth: 0,
    pointStyle: "rect",
    pointRadius: radius,
    pointHoverRadius: radius,
});

const tickLabel = value => (value < 0 ? "\u2212" + Math.abs(value) : String(value));

const yAxis = (width, borderColor) => ({
    type: "linear",
    min: -8.3,
    max: 8.7,
    afterBuildTicks: scale => { scale.ticks = tickValues.map(value => ({ value })); },
    afterFit: scale => { scale.width = width; },
    border: { color: borderColor, width: 1.5 },
    grid: { drawOnChartArea: false, tickLength: 8, tickColor: "#555", tickWidth: 1 },
    ticks: {
        autoSkip: false,
        padding: 8,
        color: "#111",
        font: { family: "'Liberation Sans'", size: 19.5 },
        callback: tickLabel,
    },
});

new Chart(document.getElementById("wt"), {
    type: "scatter",
    data: {
        datasets: [
            scatterSet(redPoints, "#e41a1c", 1.25),
            scatterSet(orangePoints, "#ff7f00", 1.35),
            scatterSet(greenPoints, "#4daf4a", 1.3),
            scatterSet(greenExtraPoints, "#4daf4a", 1.3),
            scatterSet(bluePoints, "#377eb8", 1.25),
            scatterSet(blueExtraPoints, "#377eb8", 1.25),
            scatterSet(purplePoints, "#984ea3", 1.25),
            scatterSet(purpleExtraPoints, "#984ea3", 1.25),
            scatterSet(purpleDensePoints, "#984ea3", 2.4),
        ],
    },
    options: {
        responsive: false,
        animation: false,
        layout: { padding: { top: 59, right: 78.7, left: 0, bottom: 0 } },
        plugins: {
            legend: { display: false },
            tooltip: { enabled: false },
            panelText: { title: "WT", titleDx: 8, titleY: 59, names: clusterNames, panel: "e" },
        },
        scales: {
            x: {
                type: "linear",
                min: -9.06,
                max: 10,
                afterBuildTicks: scale => { scale.ticks = tickValues.map(value => ({ value })); },
                afterFit: scale => { scale.height = 40.7; },
                border: { color: "#222", width: 1.2 },
                grid: { drawOnChartArea: false, tickLength: 8, tickColor: "#555", tickWidth: 1 },
                ticks: {
                    autoSkip: false,
                    maxRotation: 0,
                    padding: 9,
                    color: "#111",
                    font: { family: "'Liberation Sans'", size: 19.5 },
                    callback: tickLabel,
                },
            },
            y: yAxis(72.5, "#8a8a8a"),
        },
    },
    plugins: [panelText],
});

new Chart(document.getElementById("tumour"), {
    type: "scatter",
    data: { datasets: [] },
    options: {
        responsive: false,
        animation: false,
        layout: { padding: { top: 59, right: 0, left: 0, bottom: 0 } },
        plugins: {
            legend: { display: false },
            tooltip: { enabled: false },
            panelText: { title: "Tumour", titleDx: -75, titleY: 32 },
        },
        scales: {
            x: {
                type: "linear",
                min: 0,
                max: 1,
                afterFit: scale => { scale.height = 41.4; },
                border: { color: "#222", width: 1.2 },
                grid: { display: false },
                ticks: { display: false },
            },
            y: yAxis(82.3, "#111"),
        },
    },
    plugins: [panelText],
});
</script>
</body>
</html>
